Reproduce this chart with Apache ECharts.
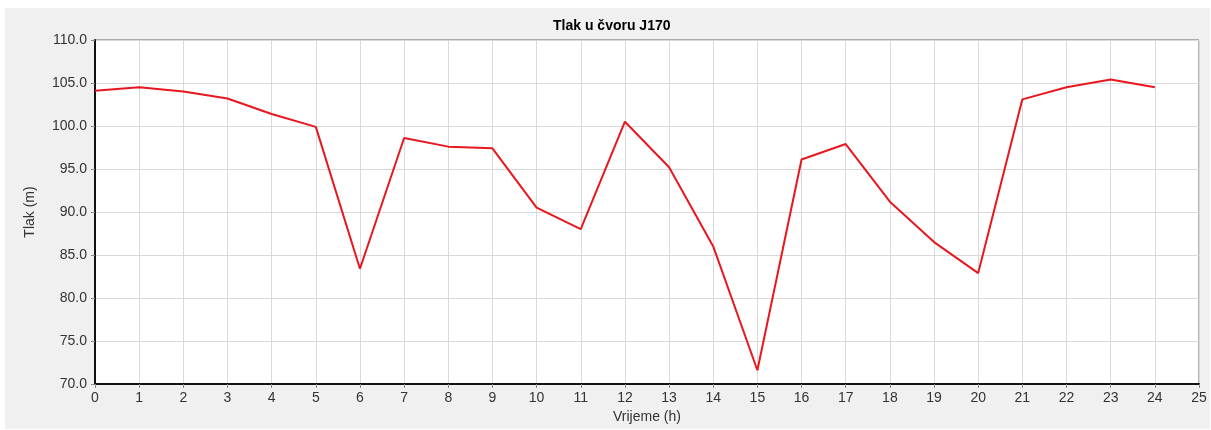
<!DOCTYPE html>
<html>
<head>
<meta charset="utf-8">
<script src="https://cdn.jsdelivr.net/npm/echarts@6/dist/echarts.min.js"></script>
<style>
html,body{margin:0;padding:0;background:#fff;}
#c{width:1211px;height:430px;}
</style>
</head>
<body>
<div id="c"></div>
<script>
const hours = [0,1,2,3,4,5,6,7,8,9,10,11,12,13,14,15,16,17,18,19,20,21,22,23,24];
const pressure = [104.1,104.5,104.0,103.2,101.4,99.9,83.4,98.6,97.6,97.4,90.5,88.0,100.5,95.2,86.0,71.6,96.1,97.9,91.2,86.5,82.9,103.1,104.5,105.4,104.5];
const titleText = 'Tlak u čvoru J170';
const xName = 'Vrijeme (h)';
const yName = 'Tlak (m)';

const chart = echarts.init(document.getElementById('c'), null, {renderer:'canvas'});
const font = '"Liberation Sans", Arial, sans-serif';
chart.setOption({
  backgroundColor: '#ffffff',
  animation: false,
  graphic: [{
    type: 'rect', z: -10, silent: true,
    shape: {x: 5, y: 8, width: 1205, height: 421},
    style: {fill: '#f0f0f0'}
  }],
  title: {
    text: titleText, left: 548, top: 14,
    textStyle: {fontFamily: font, fontSize: 14, fontWeight: 'bold', color: '#000'}
  },
  grid: {
    left: 95, right: 12, top: 40, bottom: 46,
    show: true, backgroundColor: '#ffffff', borderColor: '#666', borderWidth: 1
  },
  xAxis: {
    type: 'value', min: 0, max: 25, interval: 1,
    name: xName, nameLocation: 'middle', nameGap: 26,
    nameTextStyle: {fontFamily: font, fontSize: 14, color: '#333'},
    axisLine: {show: true, onZero: false, lineStyle: {color: '#111', width: 2}},
    axisTick: {show: true, length: 4, lineStyle: {color: '#888'}},
    axisLabel: {fontFamily: font, fontSize: 14, color: '#333', margin: 7},
    splitLine: {show: true, lineStyle: {color: '#d9d9d9', width: 1}}
  },
  yAxis: {
    type: 'value', min: 70, max: 110, interval: 5,
    name: yName, nameLocation: 'middle', nameGap: 58,
    nameTextStyle: {fontFamily: font, fontSize: 14, color: '#333'},
    axisLine: {show: true, onZero: false, lineStyle: {color: '#111', width: 2}},
    axisTick: {show: true, length: 4, lineStyle: {color: '#888'}},
    axisLabel: {fontFamily: font, fontSize: 14, color: '#333', margin: 8,
      formatter: v => v.toFixed(1)},
    splitLine: {show: true, lineStyle: {color: '#d9d9d9', width: 1}}
  },
  series: [{
    type: 'line',
    data: hours.map((h, i) => [h, pressure[i]]),
    showSymbol: false,
    lineStyle: {color: '#e8171f', width: 2},
    itemStyle: {color: '#e8171f'}
  }]
});
</script>
</body>
</html>
